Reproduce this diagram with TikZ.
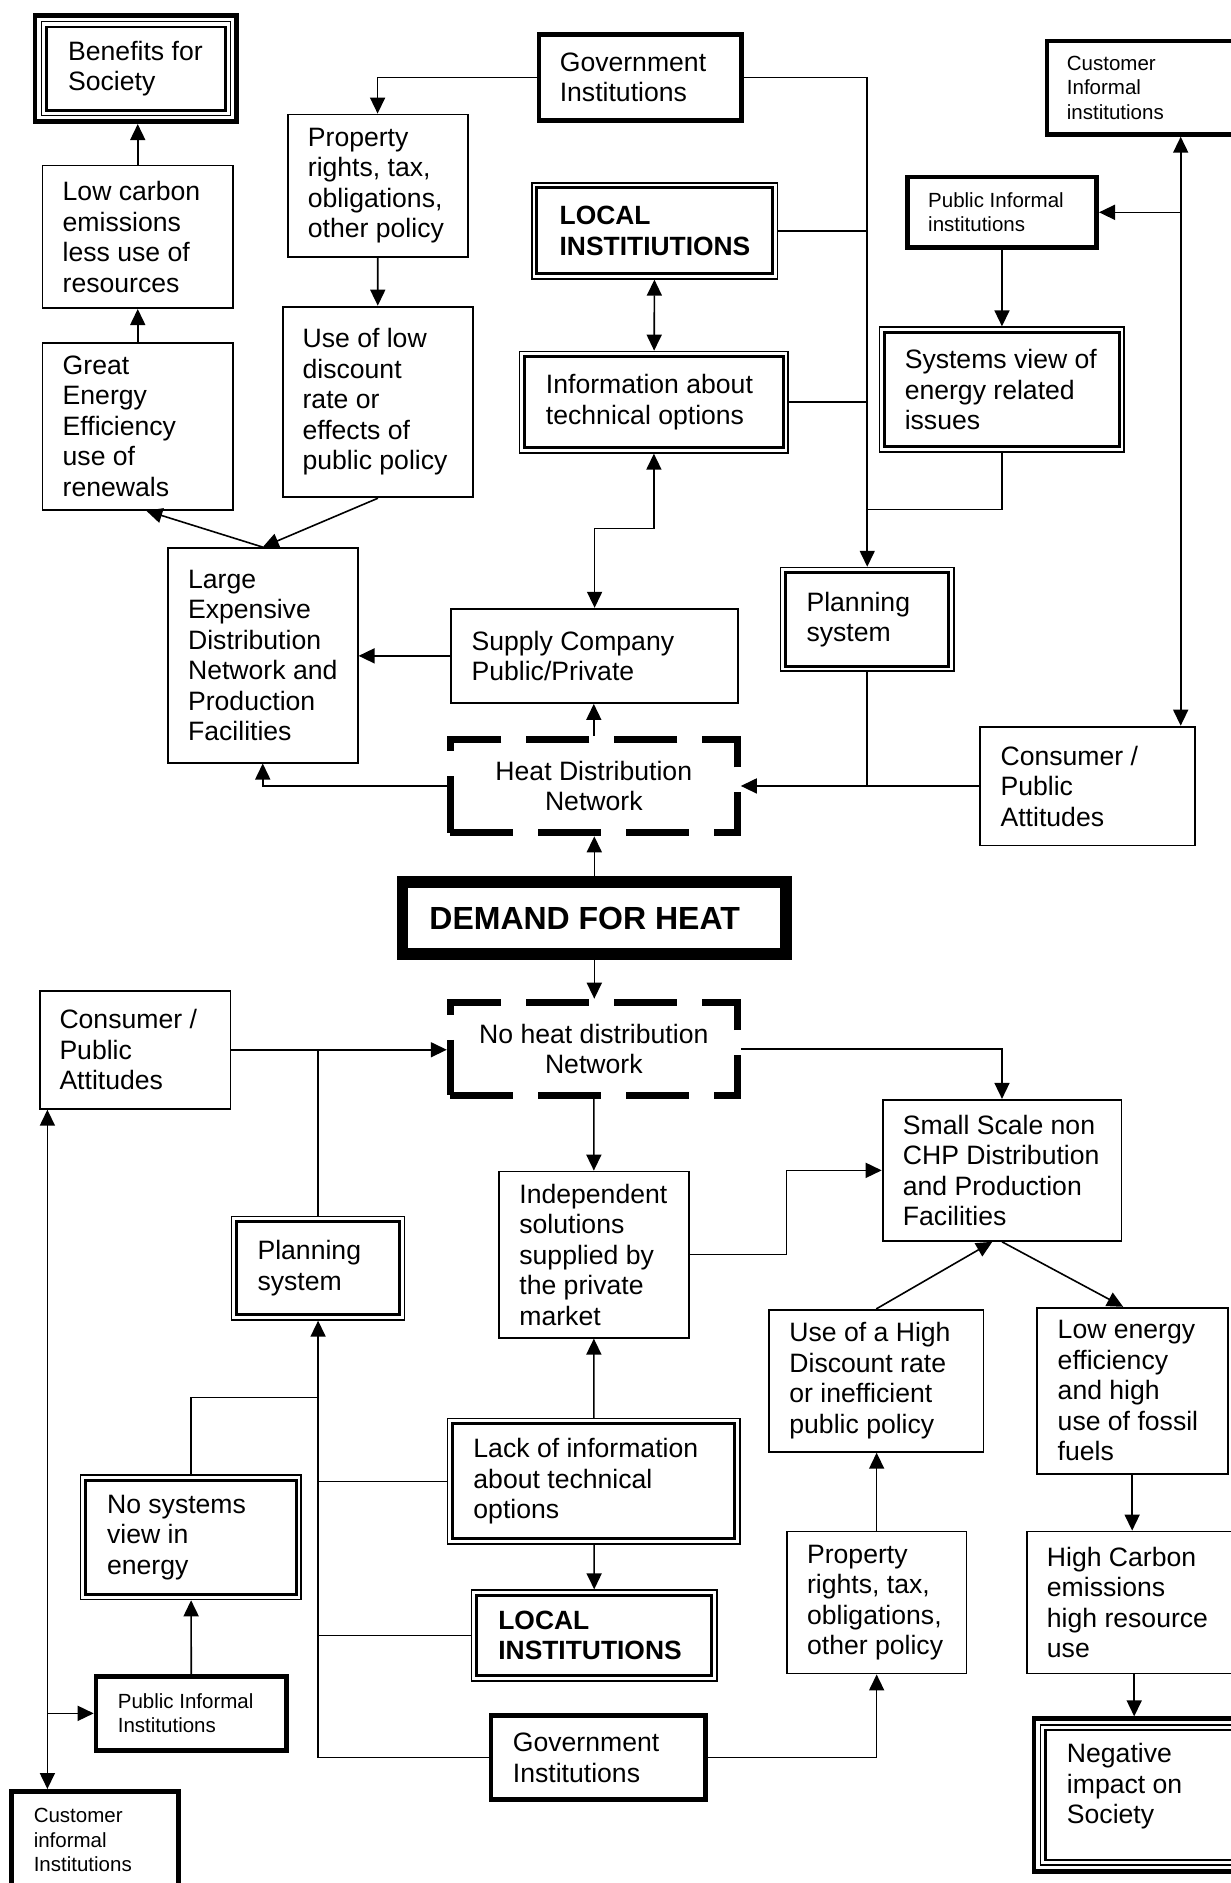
\documentclass[tikz,border=0pt]{standalone}
\usepackage{fontspec}
\setmainfont{Liberation Sans}
\usetikzlibrary{arrows.meta,positioning}

\tikzset{
	box/.style={draw, line width=1.8pt, inner sep=0pt},
	thickbox/.style={draw, line width=4.7pt, inner sep=0pt},
	dblbox/.style={draw, line width=1.6pt, inner sep=0pt},
	trplbox/.style={draw, line width=4.6pt, inner sep=0pt},
	dashbox/.style={draw, line width=7.3pt, dash pattern=on 63pt off 25pt, inner sep=0pt},
	demandbox/.style={draw, line width=11.7pt, inner sep=0pt},
	wh/.style 2 args={minimum width=#1pt, minimum height=#2pt},
	txt/.style={inner sep=0pt, align=left, font=\fontsize{26.6}{30.5}\selectfont},
	boldtxt/.style={txt, font=\fontsize{26.4}{30.5}\selectfont\bfseries},
	smalltxt/.style={inner sep=0pt, align=left, font=\fontsize{20.5}{24.3}\selectfont},
	conn/.style={line width=1.6pt},
	arr/.style={conn, -{Triangle[length=16pt,width=15pt]}},
	dblarr/.style={conn, {Triangle[length=16pt,width=15pt]}-{Triangle[length=16pt,width=15pt]}},
}

\begin{document}
\begin{tikzpicture}[x=1pt,y=-1pt]
	\useasboundingbox (0,0) rectangle (1231,1883);
	\clip (0,0) rectangle (1231,1883);

	\node[trplbox, wh={201.7}{106.3}] (benef) at (135.9,68.6) {};
	\node[txt, right=35.2pt of benef.west] (benef-t) {Benefits for\\Society};
	\node[thickbox, wh={202.4}{85.7}] (govt) at (640.15,77.3) {};
	\node[txt, right=23pt of govt.west] (govt-t) {Government\\Institutions};
	\node[box, wh={180}{142.6}] (propt) at (377.6,185.8) {};
	\node[txt, right=21pt of propt.west] (propt-t) {Property\\rights, tax,\\obligations,\\other policy};
	\node[box, wh={190.3}{190.7}] (lowdisc) at (377.95,401.95) {};
	\node[txt, right=20.5pt of lowdisc.west] (lowdisc-t) {Use of low\\discount\\rate or\\effects of\\public policy};
	\node[box, wh={190.7}{142.6}] (lowcarb) at (137.75,236.8) {};
	\node[txt, right=21pt of lowcarb.west] (lowcarb-t) {Low carbon\\emissions\\less use of\\resources};
	\node[box, wh={190.7}{167.1}] (greateff) at (137.75,426.25) {};
	\node[txt, right=21pt of greateff.west] (greateff-t) {Great\\Energy\\Efficiency\\use of\\renewals};
	\node[dblbox, wh={245.8}{96.1}] (localt) at (654.65,230.8) {};
	\node[boldtxt, right=28.5pt of localt.west] (localt-t) {LOCAL\\INSTITIUTIONS};
	\node[dblbox, wh={268.7}{101.4}] (infot) at (653.9,402.15) {};
	\node[txt, right=27pt of infot.west] (infot-t) {Information about\\technical options};
	\node[thickbox, wh={210.6}{93.4}] (custt) at (1152.35,87.65) {};
	\node[smalltxt, right=22pt of custt.west] (custt-t) {Customer\\Informal\\institutions};
	\node[thickbox, wh={189.3}{70.7}] (pubinft) at (1002,212.3) {};
	\node[smalltxt, right=23pt of pubinft.west] (pubinft-t) {Public Informal\\institutions};
	\node[dblbox, wh={244.6}{124.8}] (sysview) at (1001.95,389.55) {};
	\node[txt, right=25.7pt of sysview.west] (sysview-t) {Systems view of\\energy related\\issues};
	\node[box, wh={189.9}{214.6}] (largeexp) at (262.75,655.3) {};
	\node[txt, right=21pt of largeexp.west] (largeexp-t) {Large\\Expensive\\Distribution\\Network and\\Production\\Facilities};
	\node[box, wh={286.6}{94.3}] (supply) at (594.6,655.85) {};
	\node[txt, right=21pt of supply.west] (supply-t) {Supply Company\\Public/Private};
	\node[dashbox, wh={286.7}{93.4}] (heatnet) at (593.8,785.95) {};
	\node[txt, align=center] (heatnet-t) at (heatnet) {Heat Distribution\\Network};
	\node[dblbox, wh={173.2}{103.7}] (plant) at (867.25,619.4) {};
	\node[txt, right=26.5pt of plant.west] (plant-t) {Planning\\system};
	\node[box, wh={215.5}{118.8}] (consr) at (1087.35,786) {};
	\node[txt, right=21.7pt of consr.west] (consr-t) {Consumer /\\Public\\Attitudes};
	\node[demandbox, wh={383.7}{71.8}] (demand) at (594.3,918.05) {};
	\node[txt, font=\fontsize{32}{36}\selectfont\bfseries, right=32.6pt of demand.west] (demand-t) {DEMAND FOR HEAT};

	\node[dashbox, wh={286.7}{93}] (noheat) at (593.8,1048.85) {};
	\node[txt, align=center] (noheat-t) at (noheat) {No heat distribution\\Network};
	\node[box, wh={190.8}{118.1}] (consl) at (135,1049.75) {};
	\node[txt, right=20.6pt of consl.west] (consl-t) {Consumer /\\Public\\Attitudes};
	\node[box, wh={238.8}{141.1}] (smallsc) at (1002,1170.35) {};
	\node[txt, right=21pt of smallsc.west] (smallsc-t) {Small Scale non\\CHP Distribution\\and Production\\Facilities};
	\node[box, wh={190.4}{166.2}] (indep) at (593.9,1254.6) {};
	\node[txt, right=21.4pt of indep.west] (indep-t) {Independent\\solutions\\supplied by\\the private\\market};
	\node[dblbox, wh={172.9}{103.4}] (planb) at (318.1,1268.15) {};
	\node[txt, right=26.5pt of planb.west] (planb-t) {Planning\\system};
	\node[dblbox, wh={292.5}{125.5}] (lackinf) at (593.8,1481.4) {};
	\node[txt, right=26.5pt of lackinf.west] (lackinf-t) {Lack of information\\about technical\\options};
	\node[dblbox, wh={245.5}{90.7}] (localb) at (594.4,1635.5) {};
	\node[boldtxt, right=27.3pt of localb.west] (localb-t) {LOCAL\\INSTITUTIONS};
	\node[thickbox, wh={214.4}{83.9}] (govb) at (598.25,1757.6) {};
	\node[txt, right=24pt of govb.west] (govb-t) {Government\\Institutions};
	\node[box, wh={179.7}{142}] (propb) at (876.65,1602.5) {};
	\node[txt, right=21pt of propb.west] (propb-t) {Property\\rights, tax,\\obligations,\\other policy};
	\node[box, wh={214.3}{142}] (highdisc) at (876.25,1380.8) {};
	\node[txt, right=21pt of highdisc.west] (highdisc-t) {Use of a High\\Discount rate\\or inefficient\\public policy};
	\node[box, wh={190.9}{166.2}] (lowen) at (1132.15,1390.8) {};
	\node[txt, right=21.7pt of lowen.west] (lowen-t) {Low energy\\efficiency\\and high\\use of fossil\\fuels};
	\node[box, wh={215.2}{142}] (highcarb) at (1134.2,1602.5) {};
	\node[txt, right=21pt of highcarb.west] (highcarb-t) {High Carbon\\emissions\\high resource\\use};
	\node[trplbox, wh={213.7}{152.7}] (negimp) at (1140.9,1795) {};
	\node[txt, right=35pt of negimp.west, yshift=8.5pt] (negimp-t) {Negative\\impact on\\Society};
	\node[dblbox, wh={220.6}{124.5}] (nosys) at (190.95,1537.2) {};
	\node[txt, right=27pt of nosys.west] (nosys-t) {No systems\\view in\\energy};
	\node[thickbox, wh={190.6}{74.2}] (pubinfb) at (191.35,1713.35) {};
	\node[smalltxt, right=24pt of pubinfb.west] (pubinfb-t) {Public Informal\\Institutions};
	\node[thickbox, wh={166.9}{97.3}] (custb) at (94.9,1840) {};
	\node[smalltxt, right=24.5pt of custb.west] (custb-t) {Customer\\informal\\Institutions};

	\foreach \n in {localt,infot,sysview,plant,planb,lackinf,localb,nosys}
		\draw[line width=3pt] ([shift={(6,6)}]\n.north west) rectangle ([shift={(-6,-6)}]\n.south east);
	\foreach \n in {benef,negimp}{
		\draw[line width=1.2pt] ([shift={(8.7,8.7)}]\n.north west) rectangle ([shift={(-8.7,-8.7)}]\n.south east);
		\draw[line width=2.5pt] ([shift={(13.8,13.8)}]\n.north west) rectangle ([shift={(-13.8,-13.8)}]\n.south east);
	}

	\draw[arr] (lowcarb.north) -- (lowcarb.north |- benef.south);
	\draw[arr] (greateff) -- (lowcarb);
	\draw[arr] (govt.west) -| (propt.north);
	\draw[arr] (propt) -- (lowdisc);
	\draw[arr] (lowdisc.south) -- (largeexp.north);
	\draw[arr] (largeexp.north) -- ([xshift=8.5pt]greateff.south);
	\draw[arr] (govt.east) -| (plant.north);
	\draw[conn] (localt.east) -- (localt.east -| plant.north);
	\draw[conn] (infot.east) -- (infot.east -| plant.north);
	\coordinate (sysjoin) at (867.25,509.5);
	\draw[conn] (sysview.south) |- (sysjoin);
	\draw[dblarr] (localt) -- (infot);
	\coordinate (infojog) at (594.6,528.4);
	\draw[dblarr] (infot.south) |- (infojog) -- (supply.north);
	\draw[arr] (supply.west) -- (supply.west -| largeexp.east);
	\draw[arr] (heatnet.north) -- (heatnet.north |- supply.south);
	\draw[arr] (heatnet.west) -| (largeexp.south);
	\draw[arr] (plant.south) |- (heatnet.east);
	\draw[conn] (consr.west) -- (consr.west -| plant.south);
	\coordinate (custline) at ([xshift=-15.3pt]consr.north east);
	\draw[dblarr] (custline |- custt.south) -- (custline);
	\draw[arr] (custline |- pubinft.east) -- (pubinft.east);
	\draw[arr] (pubinft) -- (sysview);
	\draw[arr] (demand.north) -- (demand.north |- heatnet.south);
	\draw[arr] (demand.south) -- (demand.south |- noheat.north);

	\draw[arr] (consl.east) -- (consl.east -| noheat.west);
	\draw[conn] (planb.north) -- (planb.north |- consl.east);
	\draw[arr] (noheat.east) -| (smallsc.north);
	\draw[arr] (noheat) -- (indep);
	\coordinate (indjog) at (786.3,1254.6);
	\draw[arr] (indep.east) -- (indjog) |- (smallsc.west);
	\draw[arr] (highdisc.north) -- ([xshift=-9.7pt]smallsc.south);
	\draw[arr] (smallsc.south) -- ([xshift=-9pt]lowen.north);
	\draw[arr] (lowen.south) -- (lowen.south |- highcarb.north);
	\draw[arr] (highcarb.south) -- (highcarb |- negimp.north);
	\draw[arr] (lackinf) -- (indep);
	\draw[arr] (lackinf) -- (localb);
	\draw[arr] (govb.east) -| (propb.south);
	\draw[arr] (propb.north) -- (propb.north |- highdisc.south);
	\draw[arr] (govb.west) -| (planb.south);
	\draw[conn] (lackinf.west) -- (lackinf.west -| planb.south);
	\draw[conn] (localb.west) -- (localb.west -| planb.south);
	\coordinate (nosjoin) at (318.1,1397.4);
	\draw[conn] (nosys.north) |- (nosjoin);
	\draw[arr] (pubinfb) -- (nosys);
	\coordinate (leftline) at ([xshift=8.7pt]consl.south west);
	\draw[dblarr] (leftline) -- (leftline |- custb.north);
	\draw[arr] (leftline |- pubinfb.west) -- (pubinfb.west);
\end{tikzpicture}
\end{document}
